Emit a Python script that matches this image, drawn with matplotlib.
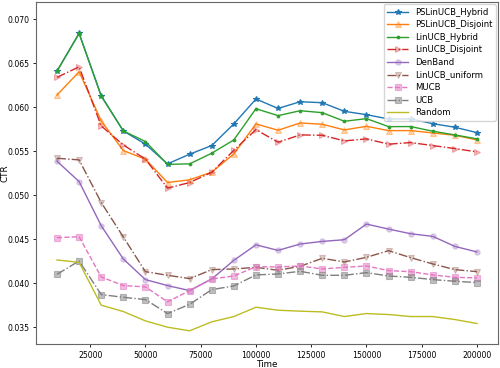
import matplotlib
matplotlib.use("Agg")
import matplotlib.pyplot as plt

time = [10000, 20000, 30000, 40000, 50000, 60000, 70000, 80000, 90000, 100000,
        110000, 120000, 130000, 140000, 150000, 160000, 170000, 180000, 190000, 200000]

pslinucb_hybrid = [0.0641, 0.0684, 0.0613, 0.0573, 0.0558, 0.05356, 0.05466, 0.05564, 0.0581, 0.06093,
                   0.05986, 0.06062, 0.06051, 0.05953, 0.05915, 0.05866, 0.05866, 0.05813, 0.05772, 0.05711]
pslinucb_disjoint = [0.06138, 0.06403, 0.05844, 0.05507, 0.05409, 0.05144, 0.05175, 0.05262, 0.05469, 0.0581,
                     0.05738, 0.05821, 0.05806, 0.05742, 0.05783, 0.05734, 0.05734, 0.05707, 0.05681, 0.05628]
linucb_hybrid = [0.0641, 0.06838, 0.06127, 0.0573, 0.0561, 0.0535, 0.05356, 0.05477, 0.05628, 0.05983,
                 0.05904, 0.0596, 0.05938, 0.0584, 0.0587, 0.05779, 0.0578, 0.05727, 0.05685, 0.0564]
linucb_disjoint = [0.06339, 0.06459, 0.05787, 0.05571, 0.0541, 0.0508, 0.05144, 0.0526, 0.0551, 0.05745,
                   0.05602, 0.05685, 0.05681, 0.05617, 0.0564, 0.0558, 0.05598, 0.05564, 0.0553, 0.05492]
denband = [0.05386, 0.05155, 0.04653, 0.04275, 0.04041, 0.03973, 0.03916, 0.04048, 0.0426, 0.04436,
           0.04373, 0.04445, 0.04475, 0.04494, 0.04672, 0.04615, 0.04562, 0.04532, 0.04418, 0.04355]
linucb_uniform = [0.0542, 0.05401, 0.04917, 0.04525, 0.04131, 0.0409, 0.04052, 0.04154, 0.04162, 0.0418,
                  0.04147, 0.04192, 0.04283, 0.04241, 0.04294, 0.0437, 0.0429, 0.04219, 0.04154, 0.04131]
mucb = [0.04517, 0.04528, 0.04071, 0.03973, 0.03958, 0.03788, 0.03916, 0.04048, 0.04082, 0.04187,
        0.04185, 0.04196, 0.04162, 0.0418, 0.04196, 0.04143, 0.04131, 0.04094, 0.04067, 0.0406]
ucb = [0.04101, 0.04253, 0.03871, 0.0384, 0.03814, 0.03655, 0.0376, 0.03927, 0.03969, 0.04094,
       0.04105, 0.04135, 0.0409, 0.0409, 0.0412, 0.04082, 0.04067, 0.04041, 0.04022, 0.04007]
random_ctr = [0.04264, 0.04237, 0.0375, 0.03678, 0.03572, 0.035, 0.03459, 0.03561, 0.03621, 0.03727,
              0.03693, 0.03682, 0.03674, 0.03621, 0.03655, 0.03644, 0.03621, 0.03621, 0.03587, 0.03542]

fig = plt.figure(figsize=(5.0, 3.68), dpi=100)
ax = fig.add_axes([0.072, 0.064, 0.924, 0.930])

ms = 3.8
lw = 1.0
mew = 0.8
ax.plot(time, pslinucb_hybrid, color='C0', ls='-', lw=lw, marker='*', ms=ms, mew=mew, label='PSLinUCB_Hybrid')
ax.plot(time, pslinucb_disjoint, color='C1', ls='-', lw=lw, marker='^', ms=ms, mew=mew,
        mfc=(1.0, 0.5, 0.05, 0.35), label='PSLinUCB_Disjoint')
ax.plot(time, linucb_hybrid, color='C2', ls='-', lw=lw, marker='.', ms=ms, mew=mew, label='LinUCB_Hybrid')
ax.plot(time, linucb_disjoint, color='C3', ls='-.', lw=lw, marker='>', ms=ms, mew=mew,
        mfc=(0.84, 0.15, 0.16, 0.3), label='LinUCB_Disjoint')
ax.plot(time, denband, color='C4', ls='-', lw=lw, marker='o', ms=ms, mew=mew,
        mfc=(0.58, 0.4, 0.74, 0.3), label='DenBand')
ax.plot(time, linucb_uniform, color='C5', ls='-.', lw=lw, marker='v', ms=ms, mew=mew,
        mfc=(0.55, 0.34, 0.29, 0.3), label='LinUCB_uniform')
ax.plot(time, mucb, color='C6', ls='--', lw=lw, marker='s', ms=ms, mew=mew,
        mfc=(0.89, 0.47, 0.76, 0.5), label='MUCB')
ax.plot(time, ucb, color='C7', ls='-.', lw=lw, marker='s', ms=ms, mew=mew,
        mfc=(0.5, 0.5, 0.5, 0.5), label='UCB')
ax.plot(time, random_ctr, color='C8', ls='-', lw=lw, label='Random')

ax.set_ylim(0.03304, 0.07193)
ax.set_xlim(500, 209500)
ax.set_xticks([25000, 50000, 75000, 100000, 125000, 150000, 175000, 200000])
ax.set_yticks([0.035, 0.040, 0.045, 0.050, 0.055, 0.060, 0.065, 0.070])
ax.tick_params(labelsize=5.6, length=2.5, width=0.6, pad=2)
ax.set_xlabel('Time', fontsize=6.3, labelpad=0)
ax.set_ylabel('CTR', fontsize=6.3)
ax.yaxis.set_label_coords(-0.058, 0.5)
for s in ax.spines.values():
    s.set_color('#666666')
    s.set_linewidth(0.8)
ax.legend(loc='upper right', fontsize=6.1, handlelength=2.5, labelspacing=0.42,
          borderaxespad=0.25, framealpha=0.8, borderpad=0.4)

fig.savefig('out.png', dpi=100)
